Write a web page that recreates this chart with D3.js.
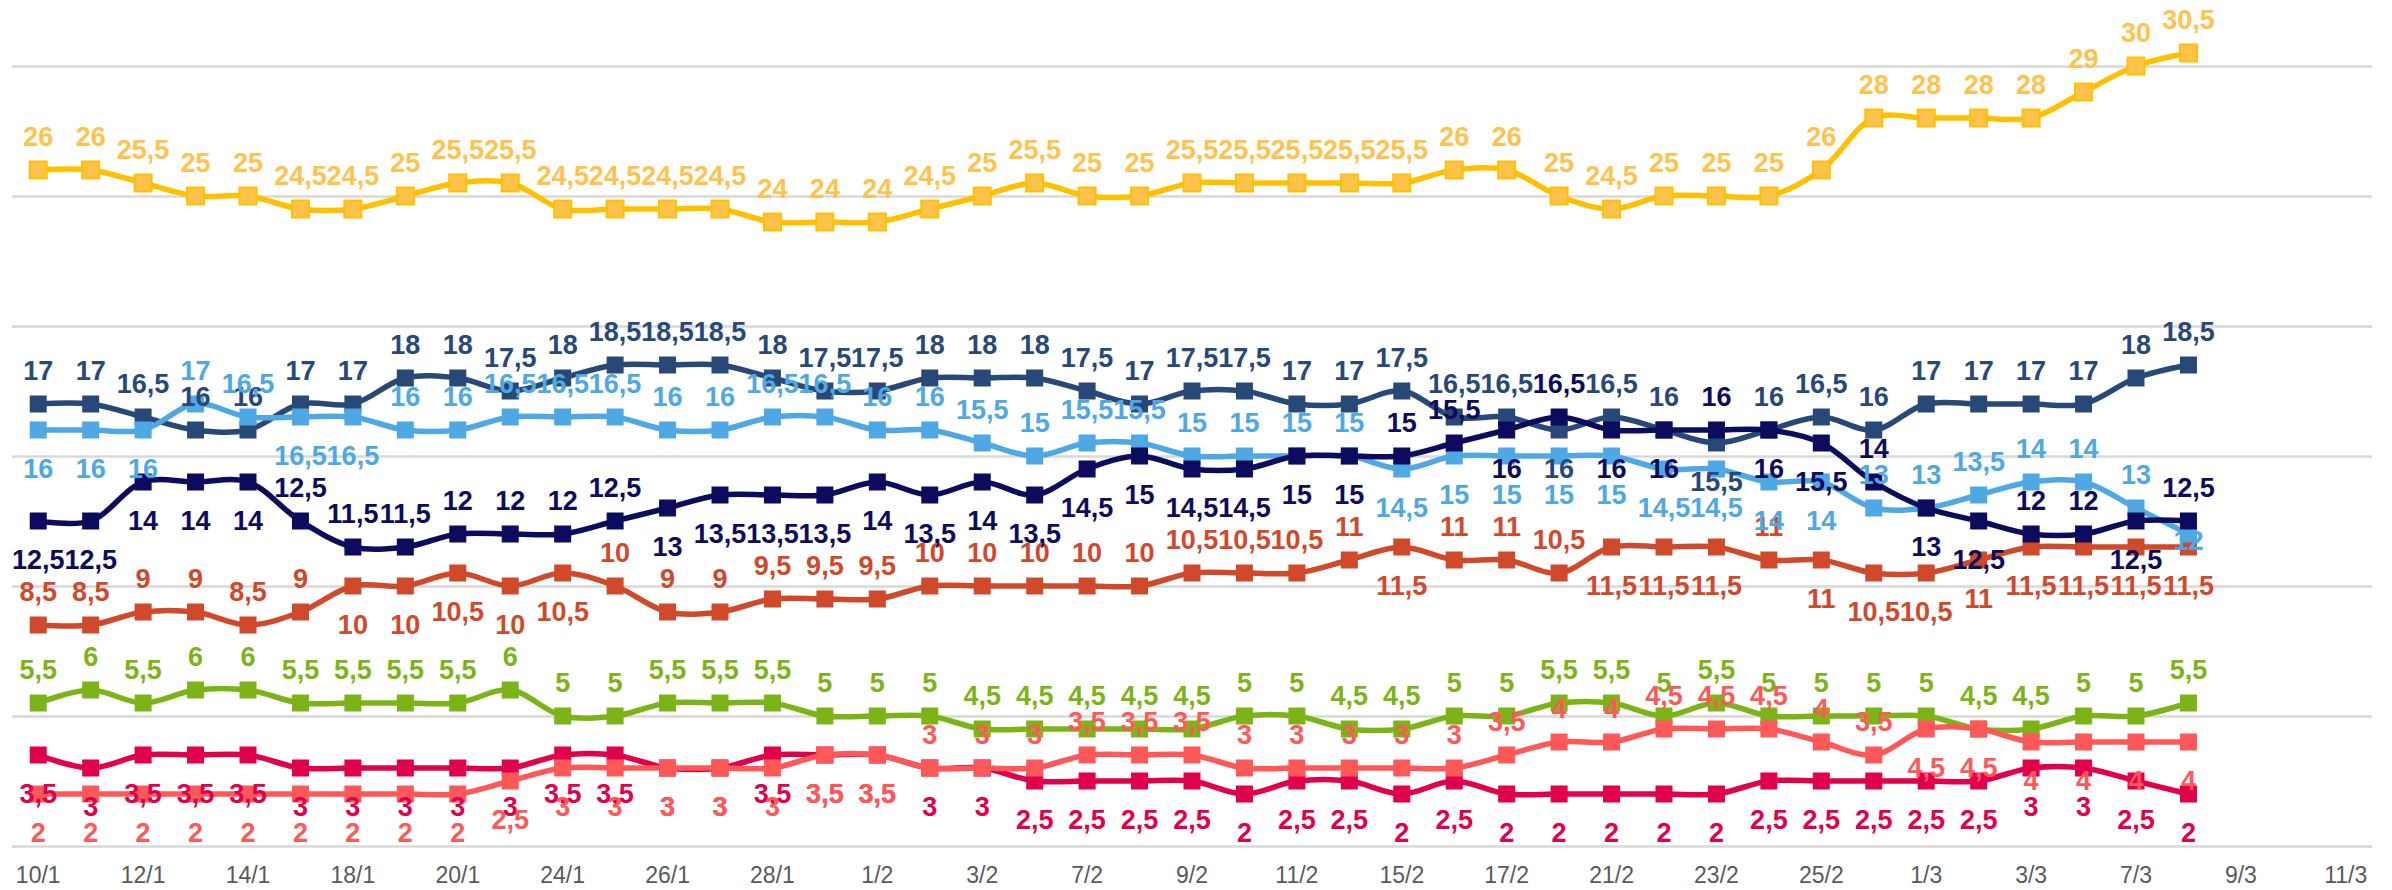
<!DOCTYPE html>
<html>
<head>
<meta charset="utf-8">
<script src="https://cdn.jsdelivr.net/npm/d3@7"></script>
<style>
  body { margin: 0; background: #fff; }
  svg { display: block; }
</style>
</head>
<body>
<div id="chart"></div>
<script>
// weekdays on the category axis; only every second one is labelled
const dates = [
  '10/1', '11/1', '12/1', '13/1', '14/1', '17/1', '18/1', '19/1', '20/1', '21/1',
  '24/1', '25/1', '26/1', '27/1', '28/1', '31/1', '1/2', '2/2', '3/2', '4/2',
  '7/2', '8/2', '9/2', '10/2', '11/2', '14/2', '15/2', '16/2', '17/2', '18/2',
  '21/2', '22/2', '23/2', '24/2', '25/2', '28/2', '1/3', '2/3', '3/3', '4/3',
  '7/3', '8/3', '9/3', '10/3', '11/3'
];

const yellow = [26, 26, 25.5, 25, 25, 24.5, 24.5, 25, 25.5, 25.5, 24.5, 24.5, 24.5, 24.5, 24,
  24, 24, 24.5, 25, 25.5, 25, 25, 25.5, 25.5, 25.5, 25.5, 25.5, 26, 26, 25,
  24.5, 25, 25, 25, 26, 28, 28, 28, 28, 29, 30, 30.5];
const slate = [17, 17, 16.5, 16, 16, 17, 17, 18, 18, 17.5, 18, 18.5, 18.5, 18.5, 18,
  17.5, 17.5, 18, 18, 18, 17.5, 17, 17.5, 17.5, 17, 17, 17.5, 16.5, 16.5, 16,
  16.5, 16, 15.5, 16, 16.5, 16, 17, 17, 17, 17, 18, 18.5];
const lightBlue = [16, 16, 16, 17, 16.5, 16.5, 16.5, 16, 16, 16.5, 16.5, 16.5, 16, 16, 16.5,
  16.5, 16, 16, 15.5, 15, 15.5, 15.5, 15, 15, 15, 15, 14.5, 15, 15, 15,
  15, 14.5, 14.5, 14, 14, 13, 13, 13.5, 14, 14, 13, 12];
const navy = [12.5, 12.5, 14, 14, 14, 12.5, 11.5, 11.5, 12, 12, 12, 12.5, 13, 13.5, 13.5,
  13.5, 14, 13.5, 14, 13.5, 14.5, 15, 14.5, 14.5, 15, 15, 15, 15.5, 16, 16.5,
  16, 16, 16, 16, 15.5, 14, 13, 12.5, 12, 12, 12.5, 12.5];
const red = [8.5, 8.5, 9, 9, 8.5, 9, 10, 10, 10.5, 10, 10.5, 10, 9, 9, 9.5,
  9.5, 9.5, 10, 10, 10, 10, 10, 10.5, 10.5, 10.5, 11, 11.5, 11, 11, 10.5,
  11.5, 11.5, 11.5, 11, 11, 10.5, 10.5, 11, 11.5, 11.5, 11.5, 11.5];
const green = [5.5, 6, 5.5, 6, 6, 5.5, 5.5, 5.5, 5.5, 6, 5, 5, 5.5, 5.5, 5.5,
  5, 5, 5, 4.5, 4.5, 4.5, 4.5, 4.5, 5, 5, 4.5, 4.5, 5, 5, 5.5,
  5.5, 5, 5.5, 5, 5, 5, 5, 4.5, 4.5, 5, 5, 5.5];
const crimson = [3.5, 3, 3.5, 3.5, 3.5, 3, 3, 3, 3, 3, 3.5, 3.5, 3, 3, 3.5,
  3.5, 3.5, 3, 3, 2.5, 2.5, 2.5, 2.5, 2, 2.5, 2.5, 2, 2.5, 2, 2,
  2, 2, 2, 2.5, 2.5, 2.5, 2.5, 2.5, 3, 3, 2.5, 2];
const coral = [2, 2, 2, 2, 2, 2, 2, 2, 2, 2.5, 3, 3, 3, 3, 3,
  3.5, 3.5, 3, 3, 3, 3.5, 3.5, 3.5, 3, 3, 3, 3, 3, 3.5, 4,
  4, 4.5, 4.5, 4.5, 4, 3.5, 4.5, 4.5, 4, 4, 4, 4];

// where each data label sits: a = above the marker, b = below, c = on it
// written as runs, e.g. 'b3 a2' -> b,b,b,a,a
function runs(s) {
  let out = [];
  s.split(' ').forEach(r => {
    for (let k = 0; k < +r.slice(1); k++) out.push(r[0]);
  });
  return out;
}

const series = [
  { values: yellow, pos: runs('a42'), line: '#FFC000', fill: '#FFC24A', text: '#FFC34D' },
  { values: slate, pos: runs('a29 b1 a2 b1 a9'), line: '#284877', fill: '#284877', text: '#284877' },
  { values: red, pos: runs('a6 b5 a15 b1 a3 b3 a1 b8'), line: '#D0492B', fill: '#D0492B', text: '#D0492B' },
  { values: lightBlue, pos: runs('b3 a2 b2 a19 b9 a6 c1'), line: '#4EA8E3', fill: '#4EA8E3', text: '#4EA8E3' },
  { values: navy, pos: runs('b5 a7 b14 a2 b1 a1 b2 a1 b2 a1 b2 a2 b1 a1'), line: '#0D0B5E', fill: '#0D0B5E', text: '#0D0B5E' },
  { values: green, pos: runs('a42'), line: '#7CB417', fill: '#7CB417', text: '#7CB417' },
  { values: crimson, pos: runs('b42'), line: '#E0004B', fill: '#E0004B', text: '#E0004B' },
  { values: coral, pos: runs('b17 a19 b6'), line: '#FF5858', fill: '#FF5858', text: '#FF5858' }
];

const width = 2392, height = 890;

const svg = d3.select('#chart').append('svg')
  .attr('width', width)
  .attr('height', height);

const x = d3.scaleBand()
  .domain(dates)
  .range([12, 2372]);

const y = d3.scaleLinear()
  .domain([0, 30])
  .range([846, 66]);

const cx = (i) => x(dates[i]) + x.bandwidth() / 2;

// horizontal gridlines
const grid = svg.append('g')
  .attr('transform', 'translate(12,0)')
  .call(d3.axisLeft(y)
    .tickValues(d3.range(0, 31, 5))
    .tickSize(-(2372 - 12))
    .tickFormat(''));
grid.select('.domain').remove();
grid.selectAll('line')
  .attr('stroke', '#D9D9D9')
  .attr('stroke-width', 2.5);

// category axis
const xAxis = svg.append('g')
  .attr('transform', 'translate(0,846)')
  .call(d3.axisBottom(x)
    .tickValues(dates.filter((d, i) => i % 2 === 0))
    .tickSize(0)
    .tickPadding(21));
xAxis.select('.domain').remove();
xAxis.selectAll('text')
  .attr('fill', '#595959')
  .style('font-family', '"Liberation Sans", Arial, sans-serif')
  .style('font-size', '23px');

const line = d3.line()
  .x((d, i) => cx(i))
  .y(d => y(d))
  .curve(d3.curveCatmullRom);

const m = 17; // marker size

series.forEach(s => {
  svg.append('path')
    .datum(s.values)
    .attr('d', line)
    .attr('fill', 'none')
    .attr('stroke', s.line)
    .attr('stroke-width', 5.5)
    .attr('stroke-linejoin', 'round');

  svg.append('g').selectAll('rect')
    .data(s.values)
    .enter().append('rect')
      .attr('x', (d, i) => cx(i) - m / 2)
      .attr('y', d => y(d) - m / 2)
      .attr('width', m)
      .attr('height', m)
      .attr('fill', s.fill)
      .attr('stroke', s.line)
      .attr('stroke-width', s.fill === s.line ? 0 : 2);
});

// data labels go on top of every line
const offset = { a: -24, b: 48, c: 16 };
series.forEach(s => {
  svg.append('g').selectAll('text')
    .data(s.values)
    .enter().append('text')
      .attr('x', (d, i) => cx(i))
      .attr('y', (d, i) => y(d) + offset[s.pos[i]])
      .attr('text-anchor', 'middle')
      .attr('fill', s.text)
      .style('font-family', '"Liberation Sans", Arial, sans-serif')
      .style('font-weight', 'bold')
      .style('font-size', '27px')
      .text(d => String(d).replace('.', ','));
});
</script>
</body>
</html>
